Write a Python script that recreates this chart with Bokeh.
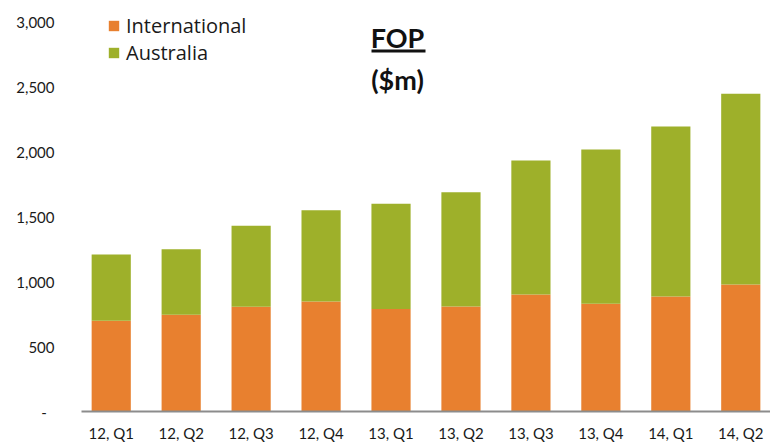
from bokeh.plotting import figure
from bokeh.models import ColumnDataSource, FactorRange, FixedTicker, Legend, Label, BoxAnnotation
from bokeh.embed import file_html
from bokeh.resources import INLINE

quarters = ["12, Q1", "12, Q2", "12, Q3", "12, Q4", "13, Q1", "13, Q2", "13, Q3", "13, Q4", "14, Q1", "14, Q2"]
international = [700, 746, 808, 848, 791, 810, 902, 831, 887, 979]
australia = [510, 505, 625, 703, 811, 880, 1034, 1190, 1311, 1472]
series = ["International", "Australia"]
colors = ["#E8802F", "#9EB02A"]
y_ticks = [0, 500, 1000, 1500, 2000, 2500, 3000]
y_tick_labels = ["-\u00a0\u00a0", "500", "1,000", "1,500", "2,000", "2,500", "3,000"]

source = ColumnDataSource(data=dict(quarter=quarters, International=international, Australia=australia))

p = figure(width=770, height=444, output_backend="svg", toolbar_location=None,
           x_range=FactorRange(factors=quarters, range_padding=-0.075, range_padding_units="absolute"),
           y_range=(0, 3123), min_border_left=81, min_border_right=0,
           min_border_top=6, min_border_bottom=32)
p.outline_line_color = None
p.background_fill_color = "white"
p.border_fill_color = "white"
p.grid.visible = False

renderers = p.vbar_stack(series, x="quarter", width=0.56, source=source, color=colors, line_color=None)

legend = Legend(items=[(s, [r]) for s, r in zip(series, renderers)], location=(26, 345),
                border_line_color=None, background_fill_alpha=0, padding=0, margin=0,
                spacing=0, glyph_width=13, glyph_height=13, label_standoff=6,
                label_text_font="Open Sans", label_text_font_size="20px", label_text_color="#1a1a1a",
                label_height=20)
p.add_layout(legend, "center")

# y axis
p.yaxis.ticker = FixedTicker(ticks=y_ticks)
p.yaxis.major_label_overrides = {t: l for t, l in zip(y_ticks, y_tick_labels)}
p.yaxis.axis_line_color = None
p.yaxis.major_tick_line_color = None
p.yaxis.minor_tick_line_color = None
p.yaxis.major_tick_out = 0
p.yaxis.major_label_standoff = 27
p.yaxis.major_label_text_font = "Lato"
p.yaxis.major_label_text_font_size = "15px"
p.yaxis.major_label_text_color = "#1a1a1a"

# x axis
p.xaxis.axis_line_color = "#8c8c8c"
p.xaxis.axis_line_width = 2
p.xaxis.major_tick_line_color = None
p.xaxis.major_tick_out = 0
p.xaxis.major_tick_in = 0
p.xaxis.major_label_standoff = 12
p.xaxis.major_label_text_font = "Lato"
p.xaxis.major_label_text_font_size = "15px"
p.xaxis.major_label_text_color = "#1a1a1a"

# title inside plot
p.add_layout(Label(x=316, y=374, x_units="screen", y_units="screen", text="FOP",
                   text_font="Lato", text_font_style="bold", text_font_size="27px",
                   text_align="center", text_baseline="middle", text_color="#111111"))
p.add_layout(Label(x=316, y=332, x_units="screen", y_units="screen", text="($m)",
                   text_font="Lato", text_font_style="bold", text_font_size="27px",
                   text_align="center", text_baseline="middle", text_color="#111111"))
p.add_layout(BoxAnnotation(left=290, right=344, top=362, bottom=359,
                           left_units="screen", right_units="screen", top_units="screen", bottom_units="screen",
                           fill_color="#111111", fill_alpha=1, line_color=None))

open("out.html", "w").write(file_html(p, INLINE))
